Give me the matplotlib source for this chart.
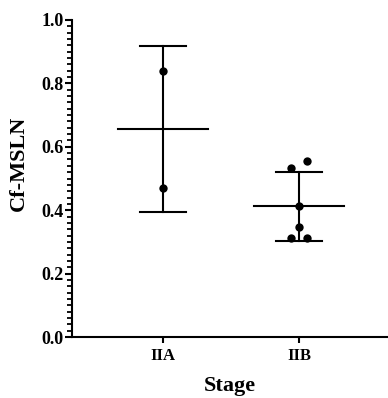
import numpy as np
import matplotlib
matplotlib.use("Agg")
import matplotlib.pyplot as plt
from matplotlib.ticker import MultipleLocator

plt.rcParams['font.family'] = ['Liberation Serif', 'DejaVu Serif']
plt.rcParams['font.weight'] = 'bold'

categories = ["IIA", "IIB"]
values_IIA = [0.84, 0.47]
values_IIB = [0.532, 0.555, 0.414, 0.348, 0.311, 0.311]
series = [values_IIA, values_IIB]
jitter = [[0.0, 0.0], [-0.061, 0.061, 0.0, 0.0, -0.061, 0.061]]

fig = plt.figure(figsize=(3.88, 3.98), dpi=100)
ax = fig.add_axes([72/388, 61/398, 316/388, 317/398])

lw = 1.5
for i, vals in enumerate(series):
    v = np.array(vals)
    m = v.mean()
    sd = v.std(ddof=1)
    ax.plot([i, i], [m - sd, m + sd], color='black', lw=lw, zorder=2)
    ax.plot([i - 0.17, i + 0.17], [m + sd, m + sd], color='black', lw=lw, zorder=2)
    ax.plot([i - 0.17, i + 0.17], [m - sd, m - sd], color='black', lw=lw, zorder=2)
    ax.plot([i - 0.33, i + 0.33], [m, m], color='black', lw=lw, zorder=2)
    xs = [i + j for j in jitter[i]]
    ax.scatter(xs, v, s=36, color='black', zorder=3, linewidths=0)

ax.set_xlim(-0.67, 1.654)
ax.set_ylim(0, 1.0)
ax.set_xticks(range(len(categories)))
ax.set_xticklabels(categories, fontsize=12, fontweight='bold')
ax.yaxis.set_minor_locator(MultipleLocator(0.02))
yt = np.arange(0, 1.01, 0.2)
ax.set_yticks(yt)
ax.set_yticklabels([f"{t:.1f}" for t in yt], fontsize=13, fontweight='bold')

for s in ['top', 'right']:
    ax.spines[s].set_visible(False)
for s in ['left', 'bottom']:
    ax.spines[s].set_linewidth(1.5)

ax.tick_params(axis='y', which='major', length=5, width=1.5, pad=1)
ax.tick_params(axis='y', which='minor', length=3.5, width=1.3)
ax.tick_params(axis='x', which='major', length=4, width=1.5, pad=4)

ax.set_ylabel("Cf-MSLN", fontsize=16, fontweight='bold')
ax.yaxis.set_label_coords(-0.136, 0.549)
ax.set_xlabel("Stage", fontsize=16, fontweight='bold', va='top')
ax.xaxis.set_label_coords(0.5, -0.122)

fig.savefig("out.png", dpi=100)
